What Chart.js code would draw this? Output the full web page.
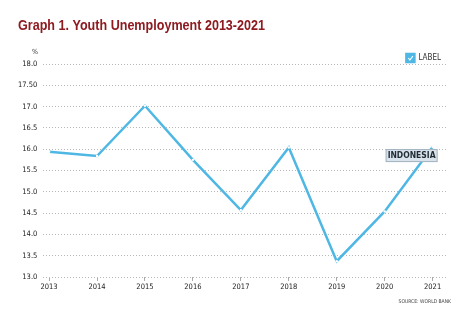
<!DOCTYPE html>
<html>
<head>
<meta charset="utf-8">
<script src="https://cdn.jsdelivr.net/npm/chart.js@4/dist/chart.umd.min.js"></script>
<style>
  html, body { margin: 0; padding: 0; background: #fff; }
  #wrap { width: 474px; height: 322px; }
</style>
</head>
<body>
<div id="wrap"><canvas id="youthChart"></canvas></div>
<script>
// Data
const years = [2013, 2014, 2015, 2016, 2017, 2018, 2019, 2020, 2021];
const unemployment = [15.94, 15.84, 17.02, 15.75, 14.57, 16.04, 13.37, 14.54, 16.05];
const yTickValues = [13.0, 13.5, 14.0, 14.5, 15.0, 15.5, 16.0, 16.5, 17.0, 17.5, 18.0];
const yTickLabels = ['13.0', '13.5', '14.0', '14.5', '15.0', '15.5', '16.0', '16.5', '17.0', '17.50', '18.0'];
const titleText = 'Graph 1. Youth Unemployment 2013-2021';
const seriesLabel = 'LABEL';
const countryLabel = 'INDONESIA';
const sourceText = 'SOURCE: WORLD BANK';

const lineBlue = '#4fb7e3';
const narrow = "'Liberation Sans Narrow', 'DejaVu Sans Condensed', 'Liberation Sans', sans-serif";

// extra text: title, % unit, country tag, source, legend check mark
const extrasPlugin = {
  id: 'extras',
  afterDraw(chart) {
    const ctx = chart.ctx;
    const x = chart.scales.x;
    const y = chart.scales.y;
    ctx.save();

    // title (condensed look, squeezed horizontally)
    ctx.font = "bold 15.5px 'Liberation Sans', Arial, sans-serif";
    ctx.fillStyle = '#8e1b20';
    ctx.textAlign = 'left';
    ctx.textBaseline = 'alphabetic';
    const tw = ctx.measureText(titleText).width;
    ctx.save();
    ctx.translate(18, 29.5);
    ctx.scale(247 / tw, 1);
    ctx.fillText(titleText, 0, 0);
    ctx.restore();

    // % above y axis
    ctx.fillStyle = '#333';
    ctx.font = '7px ' + narrow;
    ctx.textAlign = 'center';
    ctx.textBaseline = 'middle';
    ctx.fillText('%', 35, y.top - 12);

    // country tag near the last point
    const last = years.length - 1;
    const px = x.getPixelForValue(years[last]);
    const py = y.getPixelForValue(unemployment[last]);
    ctx.font = 'bold 8.5px ' + narrow;
    const w = ctx.measureText(countryLabel).width + 4;
    const bx = px - w + 5, by = py + 2;
    ctx.fillStyle = '#dae3ec';
    ctx.strokeStyle = '#a3b3c0';
    ctx.lineWidth = 1;
    ctx.fillRect(bx, by, w, 13);
    ctx.strokeRect(bx + 0.5, by + 0.5, w - 1, 12);
    ctx.fillStyle = '#1f2a33';
    ctx.textAlign = 'left';
    ctx.fillText(countryLabel, bx + 2, by + 7);

    // source note
    ctx.font = '5px ' + narrow;
    ctx.fillStyle = '#444';
    ctx.textAlign = 'right';
    ctx.fillText(sourceText, x.right + 4, chart.height - 20);

    // tick inside legend box
    const hb = chart.legend.legendHitBoxes && chart.legend.legendHitBoxes[0];
    if (hb) {
      const bw = chart.legend.options.labels.boxWidth;
      const cx = hb.left, cy = hb.top + (hb.height - bw) / 2;
      ctx.strokeStyle = '#fff';
      ctx.lineWidth = 1.2;
      ctx.beginPath();
      ctx.moveTo(cx + 2, cy + bw / 2);
      ctx.lineTo(cx + bw / 2 - 0.5, cy + bw - 2);
      ctx.lineTo(cx + bw - 1.5, cy + 2);
      ctx.stroke();
    }
    ctx.restore();
  }
};

const ctx = document.getElementById('youthChart').getContext('2d');

new Chart(ctx, {
  type: 'line',
  data: {
    datasets: [{
      label: seriesLabel,
      data: years.map((yr, i) => ({ x: yr, y: unemployment[i] })),
      borderColor: lineBlue,
      backgroundColor: lineBlue,
      borderWidth: 2.5,
      pointRadius: 1.2,
      pointBackgroundColor: '#ffffff',
      pointBorderWidth: 0,
      tension: 0,
      fill: false
    }]
  },
  options: {
    responsive: true,
    maintainAspectRatio: false,
    animation: false,
    layout: {
      padding: { top: 48, right: 27, bottom: 28, left: 12 }
    },
    plugins: {
      title: { display: false },
      legend: {
        display: true,
        align: 'end',
        maxHeight: 16,
        labels: {
          boxWidth: 8,
          boxHeight: 8,
          color: '#333',
          padding: 6,
          font: { family: narrow, size: 8 }
        }
      },
      tooltip: { enabled: false }
    },
    scales: {
      x: {
        type: 'linear',
        min: 2012.88,
        max: 2021.3,
        afterBuildTicks: axis => { axis.ticks = years.map(v => ({ value: v })); },
        border: { display: false },
        grid: {
          drawOnChartArea: false,
          drawTicks: true,
          tickLength: 4,
          color: '#aaa'
        },
        ticks: {
          autoSkip: false,
          maxRotation: 0,
          padding: 2,
          color: '#222',
          font: { family: narrow, size: 7.5 },
          callback: v => String(v)
        }
      },
      y: {
        min: 13,
        max: 18,
        afterBuildTicks: axis => { axis.ticks = yTickValues.map(v => ({ value: v })); },
        border: { display: false, dash: [1, 2] },
        grid: {
          drawTicks: false,
          color: '#b8b8b8',
          lineWidth: 1
        },
        ticks: {
          padding: 6,
          color: '#222',
          font: { family: narrow, size: 7.5 },
          callback: v => yTickLabels[yTickValues.indexOf(v)] || ''
        }
      }
    }
  },
  plugins: [extrasPlugin]
});
</script>
</body>
</html>
